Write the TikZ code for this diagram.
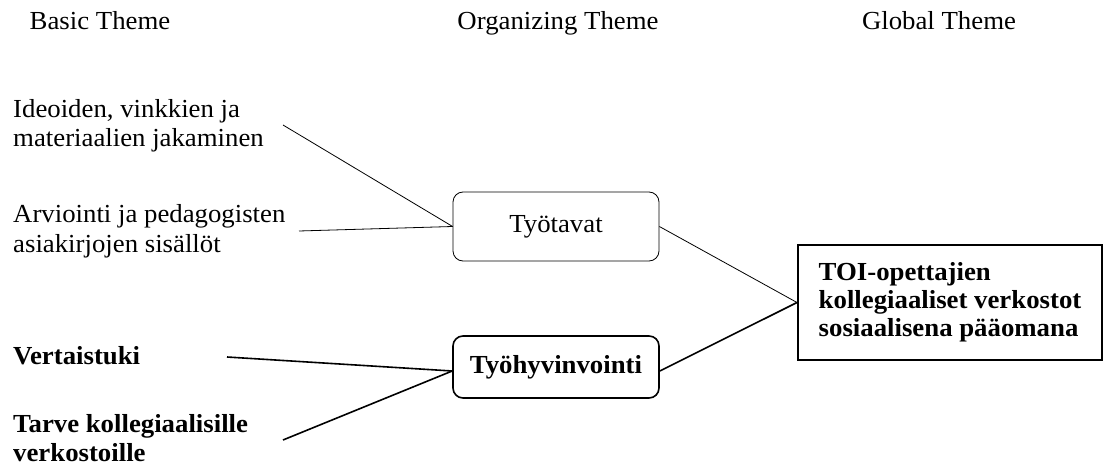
\documentclass[tikz,border=0pt]{standalone}
\usepackage{fontspec}
\setmainfont[FakeStretch=1.03]{Liberation Serif}
\begin{document}
\begin{tikzpicture}[x=1pt,y=-1pt,
  every node/.style={inner sep=0pt, font=\fontsize{26}{29}\selectfont},
  hdr/.style={anchor=base},
  lbl/.style={anchor=base west, align=left},
  blbl/.style={lbl, font=\fontsize{26}{29}\selectfont\bfseries},
  orgbox/.style={draw, rounded corners=10pt, minimum width=206pt, align=center},
  thinline/.style={line width=0.8pt},
  thickline/.style={line width=1.6pt}
]
\useasboundingbox (0,0) rectangle (1106,465);

% headers
\node[hdr] (h1) at (100,30) {Basic Theme};
\node[hdr] (h2) at (558,30) {Organizing Theme};
\node[hdr] (h3) at (939,30) {Global Theme};

% basic themes (anchor = baseline of last line)
\node[lbl] (ideo) at (13,147) {Ideoiden, vinkkien ja\\materiaalien jakaminen};
\node[lbl] (arvi) at (13,252) {Arviointi ja pedagogisten\\asiakirjojen sisällöt};
\node[blbl] (vert) at (13,364) {Vertaistuki};
\node[blbl] (tarv) at (13,461) {Tarve kollegiaalisille\\verkostoille};

% organizing themes
\node[orgbox, thinline, minimum height=69pt] (tyo) at (556,226.5) {Työtavat};
\node[orgbox, thickline, minimum height=62pt, font=\fontsize{26}{29}\selectfont\bfseries] (hyv) at (556,367) {Työhyvinvointi};

% global theme
\node[draw, line width=2pt, minimum width=304pt, minimum height=115pt, align=left,
      font=\fontsize{26}{28}\selectfont\bfseries] (glob) at (950,302.5)
  {TOI-opettajien\\kollegiaaliset verkostot\\sosiaalisena pääomana};

% connector ends
\coordinate (ideoE) at (283,125);
\coordinate (arviE) at (299,231);
\coordinate (vertE) at (227,357);
\coordinate (tarvE) at (283,440);

\draw[thinline] (ideoE) -- (tyo.west);
\draw[thinline] (arviE) -- (tyo.west);
\draw[thinline] (tyo.east) -- (glob.west);
\draw[thickline] (vertE) -- ([yshift=-4pt]hyv.west);
\draw[thickline] (tarvE) -- ([yshift=-4pt]hyv.west);
\draw[thickline] ([yshift=-4pt]hyv.east) -- (glob.west);
\end{tikzpicture}
\end{document}
